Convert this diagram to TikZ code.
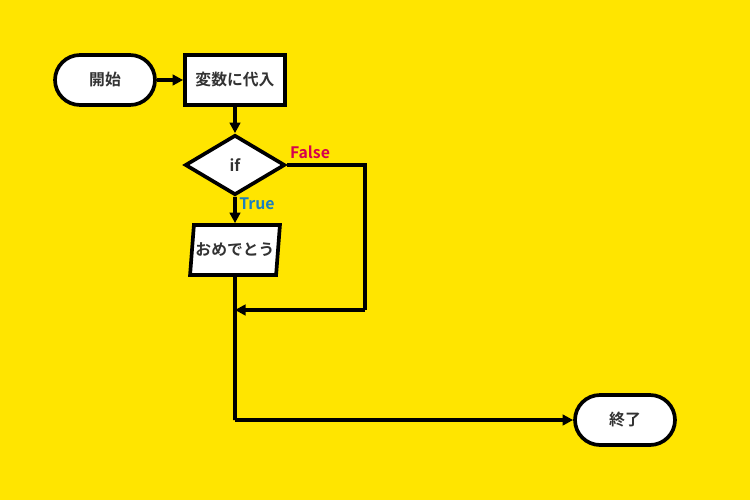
\documentclass[tikz,border=0pt]{standalone}
\usepackage{fontspec}
\setmainfont{Noto Sans CJK JP}[BoldFont={* Bold}]
\usetikzlibrary{shapes.geometric,arrows.meta}
\definecolor{bg}{HTML}{FFE500}
\definecolor{txt}{HTML}{333333}
\definecolor{falsec}{HTML}{D6004F}
\definecolor{truec}{HTML}{1A7FC0}
\begin{document}
\begin{tikzpicture}[x=0.02cm,y=-0.02cm,
  base/.style={draw=black,line width=2.1pt,fill=white,font=\bfseries\small,text=txt,inner sep=0pt},
  term/.style={base,rounded corners=0.5cm,minimum width=2cm,minimum height=1cm},
  proc/.style={base,minimum width=2cm,minimum height=1cm},
  dec/.style={base,diamond,aspect=1.667,minimum width=2cm,minimum height=1.2cm},
  io/.style={base,trapezium,trapezium left angle=75,trapezium right angle=105,minimum width=1.8cm,minimum height=1cm,trapezium stretches=true},
  conn/.style={line width=2.1pt,-{Triangle[length=6pt,width=6pt]}},
  line/.style={line width=2.1pt}]
\fill[bg] (0,0) rectangle (750,500);
\useasboundingbox (0,0) rectangle (750,500);
\node[term] (start) at (105,80) {開始};
\node[proc] (assign) at (235,80) {変数に代入};
\node[dec] (if) at (235,165) {if};
\node[io] (out) at (235,250) {おめでとう};
\node[term] (end) at (625,420) {終了};
\coordinate (fr) at (365,165);
\coordinate (fb) at (365,310);
\coordinate (m) at (235,310);
\coordinate (c) at (235,420);
\draw[conn] (start) -- (assign);
\draw[conn] (assign) -- (if);
\draw[conn] (if) -- (out);
\draw[line] (if.east) -- (fr) -- (fb);
\draw[conn] (fb) -- (m);
\draw[line] (out.south) -- (c);
\draw[conn] (c) -- (end);
\node[font=\bfseries\small,text=falsec] (fl) at (310,152) {False};
\node[font=\bfseries\small,text=truec] (tl) at (257,204) {True};
\end{tikzpicture}
\end{document}
